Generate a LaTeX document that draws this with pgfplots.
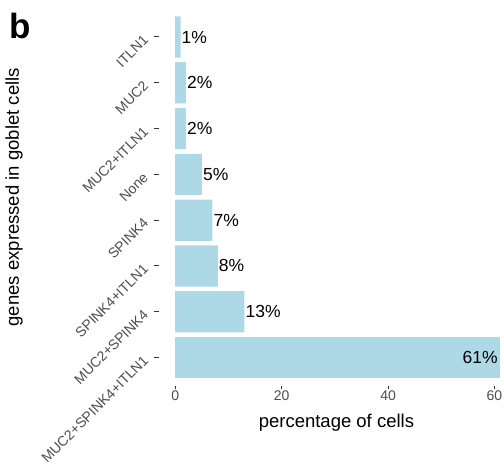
\documentclass[border=0pt]{standalone}
\usepackage{fontspec}
\setmainfont{Liberation Sans}
\usepackage{pgfplots}
\pgfplotsset{compat=1.18}
\definecolor{barblue}{HTML}{ADD8E6}
\definecolor{ticktext}{HTML}{4D4D4D}
\definecolor{tickmark}{HTML}{333333}

\begin{document}
\begin{tikzpicture}
\path[use as bounding box] (0pt,0pt) rectangle (504pt,469pt);
% panel tag
\node[anchor=base west, inner sep=0pt, font=\fontsize{35}{35}\selectfont\bfseries] at (9.5pt,430pt) {b};
\begin{axis}[
  at={(159pt,84pt)}, anchor=south west,
  scale only axis, width=357pt, height=375.5pt,
  xmin=-3.05, xmax=64.05,
  ymin=-0.6, ymax=7.6,
  axis line style={white},
  xtick={0,20,40,60},
  ytick={0,...,7},
  yticklabels={MUC2+SPINK4+ITLN1, MUC2+SPINK4, SPINK4+ITLN1, SPINK4, None, MUC2+ITLN1, MUC2, ITLN1},
  xtick pos=bottom, ytick pos=left,
  tick align=outside,
  major tick length=4.5pt,
  major tick style={draw=tickmark, line width=1pt},
  /pgf/number format/assume math mode=true,
  tick label style={font=\fontsize{14}{14}\selectfont, text=ticktext},
  yticklabel style={xshift=-8pt, rotate=45, anchor=east, inner sep=1pt},
  xticklabel style={inner sep=1.5pt},
  label style={font=\fontsize{18.5}{18.5}\selectfont},
  xlabel={percentage of cells},
  ylabel={genes expressed in goblet cells},
  xlabel style={at={(axis description cs:0.497,-0.1137)}, anchor=base},
  ylabel style={at={(axis description cs:-0.406,0.5)}, anchor=center},
  xbar, bar width=0.9, bar shift=0pt,
  clip=false,
]
% bars with labels just past the bar end
\addplot[fill=barblue, draw=none,
  nodes near coords={\pgfmathprintnumber{\pgfplotspointmeta}\%},
  point meta=x,
  every node near coord/.append style={anchor=west, inner sep=1pt, font=\fontsize{17.5}{17.5}\selectfont, text=black}]
  coordinates {(13,1) (8,2) (7,3) (5,4) (2,5) (2,6) (1,7)};
% the largest group, labelled inside its bar
\addplot[fill=barblue, draw=none,
  nodes near coords={\pgfmathprintnumber{\pgfplotspointmeta}\%},
  point meta=x,
  every node near coord/.append style={anchor=east, inner sep=1pt, xshift=-1pt, font=\fontsize{17.5}{17.5}\selectfont, text=black}]
  coordinates {(61,0)};
\end{axis}
\end{tikzpicture}
\end{document}
